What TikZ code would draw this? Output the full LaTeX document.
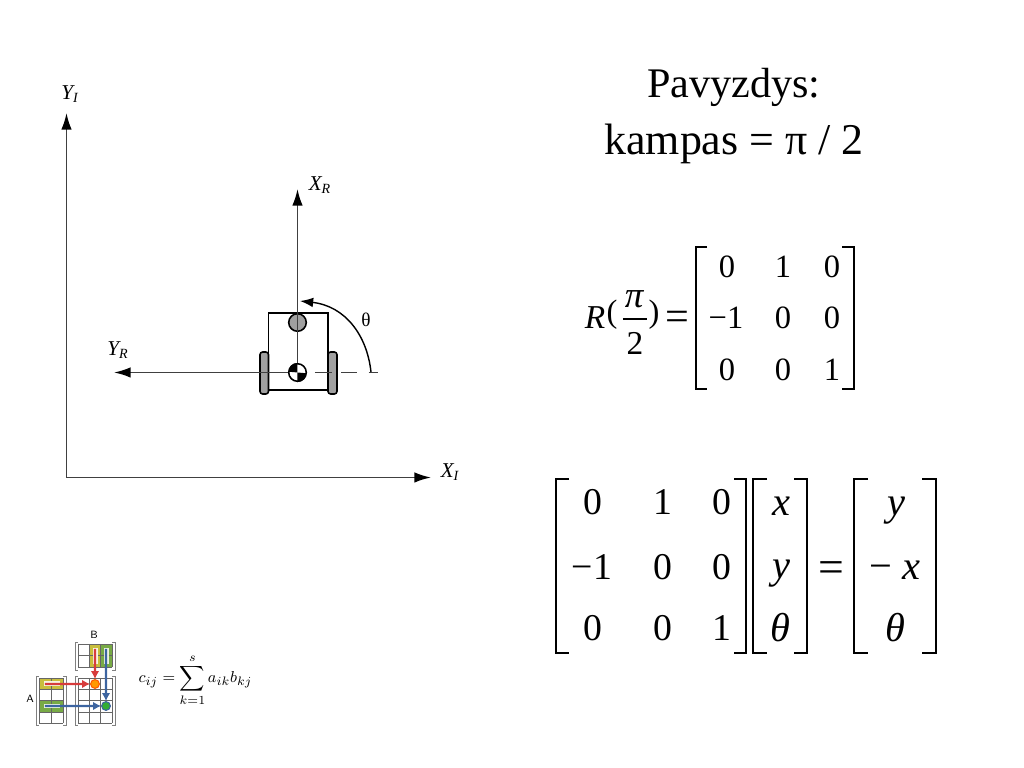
\documentclass[tikz,border=0pt]{standalone}
\usepackage{fontspec}
\setmainfont{Liberation Serif}
\usepackage{tikz}
\usetikzlibrary{arrows.meta}
\definecolor{wheelgray}{RGB}{160,160,160}
\definecolor{cellyellow}{RGB}{200,190,60}
\definecolor{cellgreen}{RGB}{120,170,70}
\definecolor{arrowred}{RGB}{215,60,60}
\definecolor{arrowblue}{RGB}{60,100,160}
\tikzset{
  axisline/.style={black!75,line width=1pt,-{Latex[length=9.5pt,width=6pt,black]}},
  axislabel/.style={inner sep=0pt,font=\fontsize{12}{12}\selectfont\itshape},
  cellbig/.style={inner sep=0pt,font=\fontsize{21.5}{21.5}\selectfont},
  cellvar/.style={inner sep=0pt,font=\fontsize{23}{23}\selectfont\itshape},
  cellsmall/.style={inner sep=0pt,font=\fontsize{18.5}{18.5}\selectfont},
  bracket/.style={black,line width=0.9pt},
  robotpart/.style={draw,line width=0.9pt,fill=wheelgray,rounded corners=1.5pt},
  hubnode/.style={circle,draw,line width=0.9pt,minimum size=10pt,inner sep=0pt},
  gridline/.style={black!60,line width=0.4pt},
  minibracket/.style={black!50,line width=0.45pt},
  miniarrow/.style={line width=1.3pt,-{Latex[length=4.5pt,width=4.8pt]}},
  minidot/.style={circle,draw,line width=0.6pt,minimum size=5pt,inner sep=0pt},
  minilabel/.style={inner sep=0pt,font=\fontsize{6}{6}\selectfont\sffamily},
}
\begin{document}
\begin{tikzpicture}[scale=0.2]
\useasboundingbox (0,0) rectangle (102.4,-76.8);
% world axes
\coordinate (origin) at (6.65,-47.75);
\coordinate (yitip) at (6.65,-11.3);
\coordinate (xitip) at (43.1,-47.75);
\draw [axisline] (origin) -- (yitip);
\draw [axisline] (origin) -- (xitip);
\node [axislabel] (yilabel) at (7,-9.4) {Y\textsubscript{I}};
\node [axislabel] (xilabel) at (45,-47.2) {X\textsubscript{I}};
% robot
\draw [robotpart] (26,-35.2) rectangle (26.85,-39.4);
\draw [robotpart] (32.8,-35.2) rectangle (33.7,-39.4);
\draw [line width=0.9pt] (26.85,-31.3) rectangle (32.8,-39);
\node [hubnode,fill=wheelgray] (caster) at (29.75,-32.25) {};
\node [hubnode,fill=white] (center) at (29.75,-37.25) {};
\fill (center.center) -- (center.north) arc (90:180:0.88) -- cycle;
\fill (center.center) -- (center.south) arc (270:360:0.88) -- cycle;
\coordinate (xrtip) at (29.75,-18.9);
\coordinate (yrtip) at (11.4,-37.25);
\draw [axisline] (center.north) -- (xrtip);
\draw [axisline] (center.west) -- (yrtip);
\coordinate (dashstart) at (31.5,-37.25);
\coordinate (dashend) at (37.8,-37.25);
\draw [black!75,line width=0.8pt,dash pattern=on 9.5pt off 5.5pt on 9pt off 6.5pt] (dashstart) -- (dashend);
\coordinate (thetastart) at (37.1,-37.2);
\coordinate (thetaend) at (30,-30.1);
\draw [line width=0.8pt,-{Latex[length=7.5pt,width=5.5pt]}] (thetastart) .. controls (36.7,-33.5) and (34.5,-30.6) .. (thetaend);
\node [inner sep=0pt,font=\fontsize{11}{11}\selectfont] (thetalabel) at (36.6,-32) {θ};
\node [axislabel] (xrlabel) at (32,-18.5) {X\textsubscript{R}};
\node [axislabel] (yrlabel) at (11.8,-35) {Y\textsubscript{R}};
% title
\node [inner sep=0pt,font=\fontsize{24}{24}\selectfont] (title) at (73.4,-8.7) {Pavyzdys:};
\node [inner sep=0pt,font=\fontsize{25}{25}\selectfont] (angle) at (73.4,-14.4) {kampas = π / 2};
% rotation matrix
\node [cellsmall,font=\fontsize{19}{19}\selectfont\itshape] (rname) at (59.5,-31.8) {R};
\node [cellsmall] (ropen) at (61.2,-31.5) {(};
\node [cellsmall,font=\fontsize{21}{21}\selectfont\itshape] (rnum) at (63.4,-29.9) {π};
\node [cellsmall,font=\fontsize{19}{19}\selectfont] (rden) at (63.5,-34.3) {2};
\coordinate (barleft) at (62.3,-31.9);
\coordinate (barright) at (64.7,-31.9);
\draw [line width=0.7pt] (barleft) -- (barright);
\node [cellsmall] (rclose) at (65.4,-31.5) {)};
\node [cellsmall,font=\fontsize{24}{24}\selectfont] (requal) at (67.7,-32.1) {=};
\foreach \name/\x/\y/\val in {a/72.7/26.7/0,b/78.3/26.7/1,c/83.2/26.7/0,d/72.6/31.8/−1,e/78.3/31.8/0,f/83.2/31.8/0,g/72.7/37/0,h/78.3/37/0,i/83.2/37/1}
  \node [cellsmall] (r\name) at (\x,-\y) {\val};
\draw [bracket] (70.7,-24.7) -- (69.6,-24.7) -- (69.6,-38.9) -- (70.7,-38.9);
\draw [bracket] (84.2,-24.7) -- (85.4,-24.7) -- (85.4,-38.9) -- (84.2,-38.9);
% product
\foreach \name/\x/\y/\val in {a/59.3/50.2/0,b/66.3/50.2/1,c/72.2/50.2/0,d/59.2/56.7/−1,e/66.3/56.7/0,f/72.2/56.7/0,g/59.3/62.8/0,h/66.3/62.8/0,i/72.2/62.8/1}
  \node [cellbig] (m\name) at (\x,-\y) {\val};
\node [cellvar] (vx) at (78.1,-50.6) {x};
\node [cellvar] (vy) at (78.1,-57.4) {y};
\node [cellvar] (vt) at (78,-62.8) {θ};
\node [cellbig,font=\fontsize{26}{26}\selectfont] (eqsign) at (83.1,-57.2) {=};
\node [cellvar] (wx) at (89.6,-51.1) {y};
\node [cellvar,font=\fontsize{23}{23}\selectfont] (wy) at (89.5,-57) {− \textit{x}};
\node [cellvar] (wt) at (89.5,-62.8) {θ};
\draw [bracket] (56.9,-47.9) -- (55.6,-47.9) -- (55.6,-65.3) -- (56.9,-65.3);
\draw [bracket] (73.4,-47.9) -- (74.6,-47.9) -- (74.6,-65.3) -- (73.4,-65.3);
\draw [bracket] (76.7,-47.9) -- (75.3,-47.9) -- (75.3,-65.3) -- (76.7,-65.3);
\draw [bracket] (79.4,-47.9) -- (80.7,-47.9) -- (80.7,-65.3) -- (79.4,-65.3);
\draw [bracket] (86.8,-47.9) -- (85.4,-47.9) -- (85.4,-65.3) -- (86.8,-65.3);
\draw [bracket] (92.2,-47.9) -- (93.6,-47.9) -- (93.6,-65.3) -- (92.2,-65.3);
% small matrix figure
\fill [cellyellow] (4,-67.8) rectangle (6.3,-68.95);
\fill [cellgreen] (4,-70.05) rectangle (6.3,-71.2);
\fill [cellyellow] (8.95,-64.4) rectangle (10.05,-66.7);
\fill [cellgreen] (10.05,-64.4) rectangle (11.2,-66.7);
\foreach \x in {3.9,5.1,6.3} \draw [gridline] (\x,-67.8) -- (\x,-72.3);
\foreach \y in {67.8,68.95,70.05,71.2,72.3} \draw [gridline] (3.9,-\y) -- (6.3,-\y);
\foreach \x in {7.8,8.95,10.05,11.2} \draw [gridline] (\x,-67.8) -- (\x,-72.3);
\foreach \y in {67.8,68.95,70.05,71.2,72.3} \draw [gridline] (7.8,-\y) -- (11.2,-\y);
\foreach \x in {7.8,8.95,10.05,11.2} \draw [gridline] (\x,-64.4) -- (\x,-66.7);
\foreach \y in {64.4,65.55,66.7} \draw [gridline] (7.8,-\y) -- (11.2,-\y);
\fill [white!85!cellyellow] (4.4,-68.15) rectangle (5.95,-68.6);
\fill [white!85!cellgreen] (4.4,-70.4) rectangle (5.95,-70.85);
\fill [white!85!cellyellow] (9.25,-64.8) rectangle (9.75,-66.4);
\fill [white!85!cellgreen] (10.35,-64.8) rectangle (10.85,-66.4);
\draw [minibracket] (3.9,-67.6) -- (3.6,-67.6) -- (3.6,-72.5) -- (3.9,-72.5);
\draw [minibracket] (6.3,-67.6) -- (6.6,-67.6) -- (6.6,-72.5) -- (6.3,-72.5);
\draw [minibracket] (7.8,-67.6) -- (7.5,-67.6) -- (7.5,-72.5) -- (7.8,-72.5);
\draw [minibracket] (11.2,-67.6) -- (11.5,-67.6) -- (11.5,-72.5) -- (11.2,-72.5);
\draw [minibracket] (7.8,-64.2) -- (7.5,-64.2) -- (7.5,-67) -- (7.8,-67);
\draw [minibracket] (11.2,-64.2) -- (11.5,-64.2) -- (11.5,-67) -- (11.2,-67);
\node [minidot,draw=orange!70!red,fill=orange!80!yellow] (dotorange) at (9.5,-68.4) {};
\node [minidot,draw=arrowblue,fill=green!60!black!80] (dotgreen) at (10.6,-70.6) {};
\coordinate (rowone) at (4.5,-68.4);
\coordinate (rowthree) at (4.5,-70.6);
\coordinate (colone) at (9.5,-64.9);
\coordinate (coltwo) at (10.6,-64.9);
\draw [miniarrow,arrowred] (rowone) -- (dotorange);
\draw [miniarrow,arrowred] (colone) -- (dotorange);
\draw [miniarrow,arrowblue] (rowthree) -- (dotgreen);
\draw [miniarrow,arrowblue] (coltwo) -- (dotgreen);
\node [minilabel] (labelb) at (9.4,-63.5) {B};
\node [minilabel] (labela) at (3,-69.9) {A};
\node [inner sep=0pt,font=\fontsize{9.4}{9.4}\selectfont] (cformula) at (19.55,-68) {$\displaystyle c_{ij}=\sum_{k=1}^{s}a_{ik}b_{kj}$};
\end{tikzpicture}
\end{document}
